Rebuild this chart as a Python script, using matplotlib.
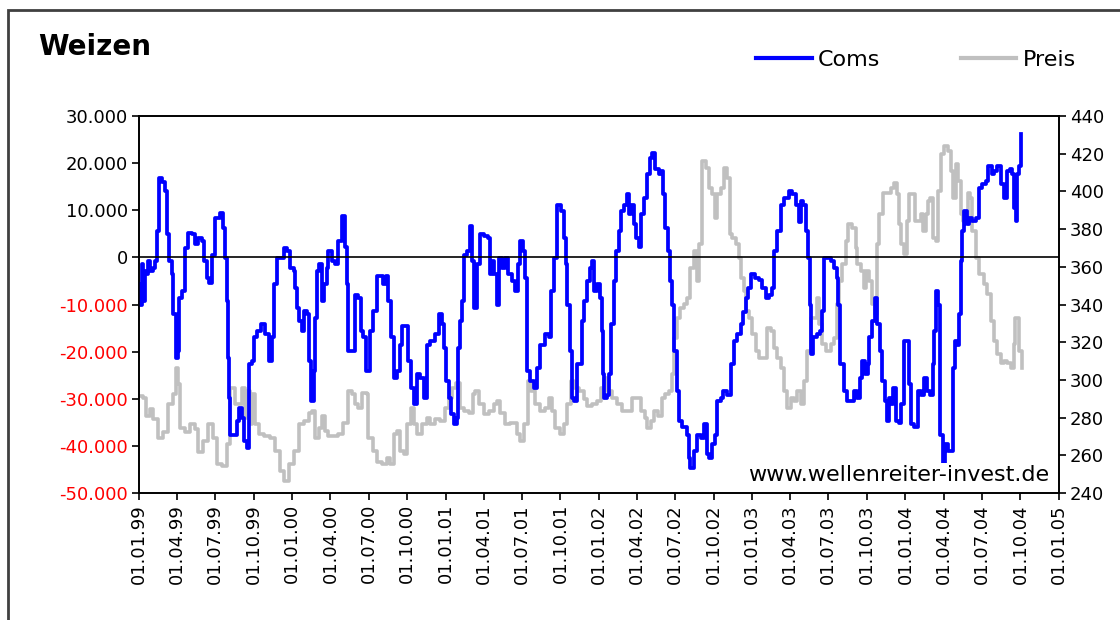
import numpy as np
import pandas as pd
import matplotlib
matplotlib.use("Agg")
import matplotlib.pyplot as plt
import matplotlib.ticker as mticker
from matplotlib.patches import Rectangle
from matplotlib.lines import Line2D

# Wochen seit 01.01.99 und Werte
coms_weeks = [0.0, 0.3, 0.9, 1.5, 2.0, 2.6, 3.2, 3.7, 4.7, 5.5, 6.0, 6.9, 7.7, 8.9, 9.4, 10.3, 11.1, 11.7,
              12.6, 13.2, 13.7, 14.5, 15.7, 16.8, 17.9, 19.1, 20.2, 21.4, 22.1, 23.1, 23.9, 24.8, 25.9,
              27.6, 28.7, 29.3, 29.9, 30.4, 30.8, 31.0, 32.7, 33.3, 34.2, 35.0, 35.8, 36.7, 37.3, 38.4,
              39.2, 40.1, 41.5, 42.9, 44.1, 45.2, 46.0, 47.1, 49.2, 50.3, 51.4,
              52.6, 53.2, 53.7, 54.3, 55.4, 56.2, 57.1, 58.0, 58.6, 59.4, 60.0, 60.5, 61.4, 62.2, 63.0,
              63.9, 64.5, 65.6, 66.8, 67.9, 69.1, 70.2, 70.7, 71.3, 72.5, 73.6, 74.7, 75.5, 76.4, 77.3,
              77.8, 78.5, 79.8, 81.0, 82.1, 83.2, 84.2, 84.9, 85.9, 86.9, 87.8, 88.7, 89.5, 90.6, 91.4,
              92.6, 93.5, 94.6, 95.7, 96.9, 98.0, 99.2, 100.9, 102.0,
              103.1, 103.9, 104.6, 105.4, 106.2, 107.3, 108.2, 108.5, 109.1, 110.0, 110.5, 111.6, 112.6,
              113.3, 114.1, 115.1, 116.2, 117.5, 118.7, 119.4, 120.2, 121.0, 121.9, 122.4, 123.6, 124.7,
              125.5, 127.0, 128.1, 128.9, 129.6, 130.7, 131.5, 132.1, 133.2, 134.4, 135.3, 136.6, 138.3,
              139.5, 140.3, 141.2, 142.3, 143.7, 144.6, 145.2, 145.7, 146.6, 147.4, 148.2, 149.1, 150.3,
              150.8, 151.6, 152.5, 153.4, 154.2, 154.8, 155.9, 156.8, 157.6, 158.0, 158.4, 159.3, 159.9,
              160.7, 161.6, 162.5, 163.3, 163.9, 165.0, 166.2, 166.7, 167.5, 168.4, 169.3, 170.1, 170.9,
              171.8, 173.0, 173.9, 174.7, 175.8, 177.0, 177.7, 178.4, 179.2, 180.0, 180.7, 181.5, 182.1,
              183.0, 183.8, 184.9, 186.4, 187.2, 187.7, 188.9, 190.0, 191.2, 192.3, 193.2, 194.0, 195.1,
              196.0, 196.8, 198.0, 198.9, 200.2, 201.4, 202.5, 203.6, 204.8, 205.7, 206.5, 207.3, 208.2,
              209.5, 211.0, 212.2, 213.3, 214.4, 215.6, 216.1, 217.3, 218.4, 219.5, 221.2, 222.4, 223.5,
              224.6, 225.4, 226.1, 226.9, 227.7, 228.4, 228.6, 229.5, 230.7, 231.8, 232.6, 233.0, 234.3,
              235.4, 236.6, 237.5, 237.9, 238.6, 239.8, 240.9, 242.2, 243.4, 244.3, 245.4, 246.2, 247.0,
              248.0, 248.5, 249.6, 250.5, 251.3, 252.3, 253.0, 253.8, 254.5, 255.3,
              256.1, 256.8, 257.6, 258.7, 259.5, 260.4, 261.3, 262.1, 262.9, 263.8, 265.0, 266.1, 267.2,
              268.1, 269.3, 270.1, 270.6, 271.2, 272.0, 272.7, 273.5, 274.3, 275.2, 276.3, 276.9, 277.7,
              278.4, 279.2, 279.7, 280.1, 280.9, 281.8, 282.6, 283.7, 284.8, 286.0, 287.1, 288.2, 289.0,
              290.2, 291.1, 292.2, 293.4, 294.3, 295.4, 296.5, 297.3, 297.9, 298.5, 299.0, 299.6, 300.2]
coms = [-5.7, -10.0, -1.5, -9.3, -2.9, -3.6, -0.8, -2.9, -2.2, -0.8, 5.6, 16.8, 16.0, 14.0, 4.9, -0.8, -3.6, -12.1,
        -21.3, -19.9, -8.6, -7.1, 2.0, 5.2, 4.9, 2.8, 4.2, 3.5, -0.8, -4.3, -5.4, 0.6, 8.4,
        9.5, 6.3, -0.1, -9.3, -21.3, -29.8, -37.6, -37.6, -34.7, -31.9, -34.0, -39.0, -40.4, -22.7, -22.0,
        -17.0, -15.6, -14.2, -16.3, -22.0, -17.0, -5.7, -0.1, 2.0, 1.3, -2.2,
        -2.9, -6.4, -10.7, -13.5, -15.6, -11.4, -12.1, -22.0, -30.5, -24.1, -12.8, -2.9, -1.5, -9.3, -5.7,
        -2.2, 1.3, -0.8, -1.5, 3.5, 8.8, 2.1, -5.7, -19.9, -19.9, -7.9, -8.6, -15.6, -17.0, -24.1,
        -24.1, -15.6, -11.4, -4.0, -4.0, -5.7, -4.0, -9.3, -17.0, -25.5, -24.1, -18.5, -14.6, -14.6, -22.0,
        -27.7, -31.2, -24.8, -25.5, -29.8, -18.5, -17.8, -16.3, -12.1,
        -14.2, -19.2, -26.2, -29.8, -33.3, -35.4, -34.0, -19.2, -13.5, -9.3, 0.6, 1.3, 6.6,
        -0.8, -10.7, -1.5, 4.9, 4.5, 4.2, -3.6, -0.8, -3.6, -10.0, -0.1, -2.2, -0.1,
        -3.6, -5.0, -7.1, -1.5, 3.5, 1.3, -4.3, -24.1, -26.2, -27.7, -23.4, -18.5, -16.3,
        -17.0, -7.1, -0.1, 11.2, 9.8, 4.2, -1.5, -10.0, -19.9, -29.8, -30.5, -22.7, -22.7,
        -13.5, -9.3, -5.0, -2.2, -0.8, -7.1, -5.7, -8.6, -15.6, -24.8, -29.8, -29.1, -24.8,
        -14.2, -5.0, 1.3, 5.6, 9.8, 11.2, 13.4, 9.1, 11.2, 7.0, 4.2, 2.1, 9.1,
        12.7, 17.6, 21.1, 22.2, 18.7, 17.6, 18.3, 13.4, 6.3, 1.3, -5.0, -10.0, -19.9,
        -28.4, -34.7, -36.1, -37.6, -42.5, -44.6, -41.1, -37.6, -38.3, -35.4, -41.8, -42.5, -39.7,
        -37.6, -30.5, -29.8, -28.4, -29.1, -22.7, -17.8, -16.3, -14.2, -11.5, -8.6, -6.4, -3.6,
        -4.3, -4.7, -6.4, -8.6, -7.9, -6.4, 1.3, 5.6, 11.2, 12.7, 14.1, 13.4, 11.2,
        7.6, 12.0, 11.2, 5.6, -0.1, -10.0, -20.6, -17.0, -16.3, -15.6, -11.4, -0.1, -0.1,
        -0.8, -2.2, -4.3, -10.0, -22.7, -28.4, -30.5, -30.5, -28.4, -29.8, -25.5, -22.0, -24.8,
        -22.7, -17.0, -13.5, -8.6, -14.2, -19.9, -26.2, -30.5, -34.7, -29.8,
        -31.2, -27.7, -34.7, -35.1, -31.2, -17.8, -17.8, -26.9, -35.4, -36.1, -28.4, -29.1, -25.5,
        -28.4, -29.1, -22.7, -15.6, -7.1, -10.0, -37.6, -44.6, -39.7, -41.1, -41.1, -23.4, -17.8,
        -18.5, -12.1, -0.8, 5.6, 9.8, 7.0, 8.4, 7.7, 8.4, 14.8, 15.5, 16.2, 19.4,
        17.6, 18.3, 19.4, 15.5, 12.7, 18.3, 18.7, 17.6, 10.5, 7.7, 17.6, 19.4, 26.1]

preis_weeks = [0.3, 1.5, 2.4, 3.7, 4.9, 6.6, 8.3, 10.0, 11.5, 12.6, 13.4, 14.0, 15.7, 17.4, 19.1, 20.2, 21.9,
               23.6, 25.3, 26.7, 28.2, 29.9, 31.0, 32.7, 35.0, 36.1, 36.9, 37.8, 38.4, 39.5, 40.7, 42.4,
               44.6, 46.3, 48.0, 49.2, 50.9, 52.6, 54.3, 56.0, 57.7, 58.8, 60.0, 61.1, 62.2, 63.4, 64.5,
               66.2, 67.9, 69.6, 71.3, 72.5, 73.6, 74.7, 75.9, 77.6, 78.1, 79.8, 81.0, 82.7, 84.4, 85.5,
               86.7, 87.8, 88.9, 90.1, 91.2, 92.6, 93.7, 94.6, 96.3, 98.0, 99.2, 100.9, 102.6, 104.3,
               105.4, 106.5, 108.0, 109.4, 110.5, 112.2, 113.7, 114.5, 115.6, 117.3, 119.0, 120.7, 121.9,
               123.0, 124.7, 126.4, 128.5, 129.6, 131.0, 132.3, 133.5, 134.9, 136.6, 138.3, 139.5, 140.6,
               141.7, 143.4, 144.6, 145.7, 146.9, 148.0, 149.7, 150.3, 151.4, 152.5, 154.2, 156.0,
               157.1, 158.2, 159.3, 161.1, 162.8, 164.5, 166.2, 167.9, 169.6, 171.0, 172.1, 173.0, 174.3,
               175.2, 176.6, 178.1, 179.2, 180.4, 181.5, 182.1, 183.2, 184.3, 185.5, 186.6, 187.7, 188.9,
               189.8, 190.6, 191.7, 192.9, 194.0, 195.1, 196.0, 196.8, 198.0, 199.1, 200.2, 201.1, 201.9,
               203.1, 204.2, 205.0, 205.9, 206.5, 207.6, 208.7, 209.9, 211.0, 212.7, 213.9, 215.0, 216.1,
               217.3, 218.4, 219.5, 220.7, 221.8, 223.0, 224.1, 225.2, 226.3, 227.5, 228.6, 229.5, 230.7,
               231.5, 232.6, 233.7, 235.4, 236.6, 237.5, 238.3, 239.4, 240.5, 241.3, 242.8, 243.9, 244.5,
               245.7, 246.8, 247.4, 248.5, 249.6, 250.5, 251.1, 251.9, 253.4, 254.7, 255.9, 257.0, 257.9,
               258.7, 259.5, 260.4, 261.3, 262.1, 263.3, 264.1, 265.2, 266.1, 267.0, 267.8, 268.6, 269.3,
               270.1, 271.2, 272.0, 272.9, 274.0, 275.2, 276.3, 277.2, 278.0, 278.8, 279.7, 280.6, 282.0,
               282.9, 283.7, 284.8, 286.0, 287.7, 288.8, 290.0, 291.1, 292.2, 293.4, 294.5, 295.6, 296.8,
               297.7, 298.1, 299.0, 299.6, 300.4]
preis = [291.5, 290.6, 280.9, 284.4, 279.1, 269.4, 272.1, 287.1, 292.4, 306.5, 297.7, 274.7, 272.1, 276.5,
         273.8, 261.5, 267.6, 276.5, 269.4, 255.3, 254.4, 265.9, 295.9, 287.1, 295.9, 280.0, 294.1, 276.5,
         292.4, 276.5, 271.2, 270.3, 269.4, 262.3, 251.7, 246.4, 255.3, 262.3, 276.5, 278.2, 282.7, 283.5,
         269.4, 274.7, 280.9, 272.9, 270.3, 270.3, 271.2, 277.4, 294.1, 292.4, 287.1, 285.3, 293.3, 292.4,
         269.4, 262.3, 256.2, 255.3, 258.8, 255.3, 271.2, 272.9, 262.3, 260.6, 276.5, 285.3, 276.5, 271.2,
         276.5, 280.0, 276.5, 279.1, 278.2, 285.3, 290.6, 295.9, 298.6, 285.3, 283.5, 282.7, 292.4, 294.1,
         287.1, 281.8, 283.5, 287.1, 288.8, 282.7, 276.5, 277.4, 271.2, 267.6, 276.5, 299.4, 294.1, 287.1,
         283.5, 285.3, 290.6, 283.5, 274.7, 271.2, 276.5, 287.1, 299.4, 295.9, 294.1, 294.1, 289.7, 286.2,
         287.1, 288.8, 295.9, 301.2, 294.1, 290.6, 287.1, 283.5, 283.5, 290.6, 290.6, 283.5, 280.0, 274.7,
         278.2, 283.5, 280.9, 290.6, 292.4, 294.1, 303.0, 322.4, 333.0, 338.3, 340.1, 343.6, 359.5, 368.4,
         352.5, 371.9, 416.1, 412.5, 401.9, 398.4, 386.0, 398.4, 401.9, 412.5, 407.2, 377.2, 375.4,
         371.9, 364.8, 354.2, 347.2, 336.6, 333.0, 324.2, 315.3, 311.8, 311.8, 327.7, 326.0, 317.1,
         311.8, 306.5, 294.1, 285.3, 290.6, 288.8, 294.1, 287.1, 299.4, 315.3, 333.0, 333.0, 343.6,
         329.5, 318.9, 315.3, 318.9, 322.4, 340.1, 352.5, 361.3, 373.7, 382.5, 380.7, 370.1, 361.3,
         357.8, 348.9, 357.8, 352.5, 340.1, 334.8, 371.9, 387.8, 399.3, 399.3, 401.9, 404.6, 398.4,
         382.5, 371.9, 366.6, 384.3, 398.4, 398.4, 384.3, 384.3, 387.8, 379.0, 387.8, 394.9, 396.6,
         375.4, 373.7, 400.2, 419.6, 424.0, 421.4, 410.8, 396.6, 414.3, 405.5, 387.8, 384.3, 399.3,
         396.6, 379.0, 364.8, 356.0, 350.7, 345.4, 331.3, 320.6, 313.6, 309.2, 310.0, 309.2, 306.5,
         318.9, 333.0, 333.0, 315.3, 306.5]

start = pd.Timestamp("1999-01-01")
coms_dates = start + pd.to_timedelta(np.array(coms_weeks) * 7, unit="D")
preis_dates = start + pd.to_timedelta(np.array(preis_weeks) * 7, unit="D")
coms_vals = np.array(coms) * 1000

fig = plt.figure(figsize=(11.2, 6.2), dpi=100)
# Rahmen um die ganze Grafik
fig.patches.append(Rectangle((8 / 1120, -0.1), 1.2, 1 - 10 / 620 + 0.1, transform=fig.transFigure,
                             fill=False, edgecolor="#404040", linewidth=2))

ax = fig.add_axes([139 / 1120, 1 - 493 / 620, 920 / 1120, 377 / 620])
ax2 = ax.twinx()
ax.set_zorder(ax2.get_zorder() + 1)
ax.patch.set_visible(False)

ax2.plot(preis_dates, preis, color="#c0c0c0", linewidth=2.6, drawstyle="steps-post")
ax.plot(coms_dates, coms_vals, color="#0000ff", linewidth=2.7, drawstyle="steps-post")
ax.axhline(0, color="black", linewidth=1.2)

ax.set_xlim(pd.Timestamp("1999-01-01"), pd.Timestamp("2005-01-01"))
ax.set_ylim(-50000, 30000)
ax2.set_ylim(240, 440)
ax.set_yticks(np.arange(-50000, 30001, 10000))
ax2.set_yticks(np.arange(240, 441, 20))

ticks = pd.date_range("1999-01-01", "2005-01-01", freq="QS")
ax.set_xticks(ticks)
ax.set_xticklabels([t.strftime("%d.%m.%y") for t in ticks], rotation=90, fontsize=13)

ax.yaxis.set_major_formatter(mticker.FuncFormatter(lambda v, p: f"{int(v):,}".replace(",", ".")))
for lab, v in zip(ax.get_yticklabels(), ax.get_yticks()):
    lab.set_fontsize(13)
    if v < 0:
        lab.set_color("red")
for lab in ax2.get_yticklabels():
    lab.set_fontsize(13)

for a in (ax, ax2):
    a.tick_params(direction="out", length=5, width=1.2, pad=3)
    for s in a.spines.values():
        s.set_linewidth(1.2)

ax.text(0.989, 0.022, "www.wellenreiter-invest.de", transform=ax.transAxes, ha="right", va="bottom",
        fontsize=16, zorder=10, bbox=dict(facecolor="white", edgecolor="none", pad=1))

fig.text(38 / 1120, 1 - 47 / 620, "Weizen", fontsize=20, fontweight="bold", va="center")

handles = [Line2D([], [], color="#0000ff", linewidth=3), Line2D([], [], color="#c0c0c0", linewidth=3)]
fig.legend(handles, ["Coms", "Preis"], loc="center left", bbox_to_anchor=(736 / 1120, 1 - 60 / 620),
           ncol=2, frameon=False, fontsize=16, handlelength=2.5, handletextpad=0.3, columnspacing=3.6)

fig.savefig("out.png", dpi=100)
